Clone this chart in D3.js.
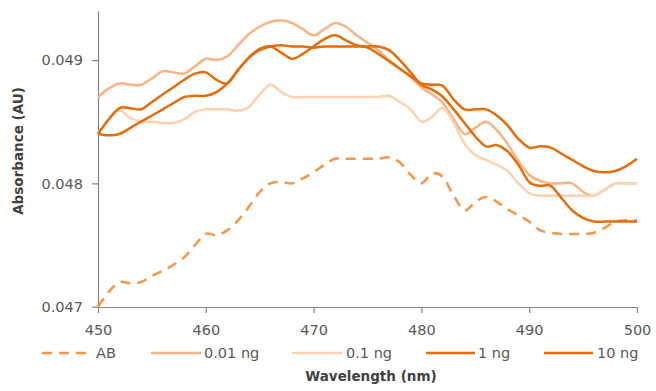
<!DOCTYPE html>
<html>
<head>
<meta charset="utf-8">
<script src="https://cdn.jsdelivr.net/npm/d3@7"></script>
<style>
  body { margin: 0; background: #fff; }
  svg { display: block; }
  .tick text { font-family: "DejaVu Sans", sans-serif; font-size: 14.5px; fill: #595959; }
  .axis path, .axis line { stroke: #868686; stroke-width: 1.2; }
</style>
</head>
<body>
<div id="chart"></div>
<script>
'use strict';

var width = 656;
var height = 391;

// wavelength (nm)
var wavelengths = [450, 451, 452, 453, 454, 455, 456, 457, 458, 459,
  460, 461, 462, 463, 464, 465, 466, 467, 468, 469,
  470, 471, 472, 473, 474, 475, 476, 477, 478, 479,
  480, 481, 482, 483, 484, 485, 486, 487, 488, 489,
  490, 491, 492, 493, 494, 495, 496, 497, 498, 499, 500];

var xTicks = [450, 460, 470, 480, 490, 500];
var yTicks = [0.047, 0.048, 0.049];

var ab = [0.04700, 0.04712, 0.04720, 0.04719, 0.04720, 0.04725, 0.04729, 0.04734, 0.04740, 0.04750,
  0.04759, 0.04758, 0.04762, 0.04770, 0.04781, 0.04793, 0.04800, 0.04801, 0.04800, 0.04804,
  0.04809, 0.04815, 0.04820, 0.04820, 0.04820, 0.04820, 0.04820, 0.04821, 0.04817, 0.04807,
  0.04800, 0.04808, 0.04805, 0.04790, 0.04778, 0.04785, 0.04789, 0.04785, 0.04779, 0.04774,
  0.04769, 0.04762, 0.04760, 0.04759, 0.04759, 0.04759, 0.04760, 0.04764, 0.04769, 0.04770, 0.04770];

var ng001 = [0.04870, 0.04877, 0.04881, 0.04880, 0.04880, 0.04885, 0.04891, 0.04890, 0.04889, 0.04895,
  0.04901, 0.04900, 0.04903, 0.04912, 0.04921, 0.04927, 0.04931, 0.04932, 0.04930, 0.04925,
  0.04920, 0.04925, 0.04930, 0.04927, 0.04920, 0.04914, 0.04908, 0.04900, 0.04893, 0.04886,
  0.04878, 0.04872, 0.04865, 0.04852, 0.04840, 0.04845, 0.04850, 0.04843, 0.04832, 0.04818,
  0.04807, 0.04802, 0.04800, 0.04800, 0.04800, 0.04793, 0.04790, 0.04795, 0.04800, 0.04800, 0.04800];

var ng01 = [0.04840, 0.04852, 0.04859, 0.04853, 0.04850, 0.04850, 0.04849, 0.04849, 0.04852, 0.04858,
  0.04860, 0.04860, 0.04860, 0.04859, 0.04862, 0.04872, 0.04880, 0.04874, 0.04870, 0.04870,
  0.04870, 0.04870, 0.04870, 0.04870, 0.04870, 0.04870, 0.04870, 0.04871, 0.04866, 0.04860,
  0.04850, 0.04854, 0.04861, 0.04849, 0.04832, 0.04823, 0.04819, 0.04815, 0.04810, 0.04800,
  0.04792, 0.04790, 0.04790, 0.04790, 0.04790, 0.04790, 0.04790, 0.04795, 0.04800, 0.04800, 0.04800];

var ng1 = [0.04840, 0.04852, 0.04861, 0.04861, 0.04860, 0.04866, 0.04872, 0.04878, 0.04884, 0.04889,
  0.04890, 0.04884, 0.04881, 0.04892, 0.04902, 0.04908, 0.04911, 0.04912, 0.04911, 0.04911,
  0.04910, 0.04911, 0.04911, 0.04911, 0.04911, 0.04911, 0.04911, 0.04908, 0.04900, 0.04890,
  0.04880, 0.04876, 0.04870, 0.04860, 0.04849, 0.04838, 0.04830, 0.04831, 0.04826, 0.04815,
  0.04801, 0.04798, 0.04798, 0.04788, 0.04778, 0.04772, 0.04769, 0.04769, 0.04769, 0.04769, 0.04769];

var ng10 = [0.04840, 0.04839, 0.04840, 0.04845, 0.04850, 0.04855, 0.04860, 0.04865, 0.04870, 0.04871,
  0.04871, 0.04874, 0.04881, 0.04892, 0.04902, 0.04909, 0.04911, 0.04906, 0.04901, 0.04905,
  0.04911, 0.04917, 0.04920, 0.04916, 0.04912, 0.04910, 0.04905, 0.04899, 0.04893, 0.04887,
  0.04881, 0.04880, 0.04879, 0.04868, 0.04860, 0.04860, 0.04860, 0.04855, 0.04847, 0.04836,
  0.04829, 0.04830, 0.04829, 0.04824, 0.04819, 0.04814, 0.04810, 0.04809, 0.04810, 0.04814, 0.04820];

var seriesNames = ['AB', '0.01 ng', '0.1 ng', '1 ng', '10 ng'];
var seriesValues = [ab, ng001, ng01, ng1, ng10];

var seriesStyle = [
  { color: '#F79646', dash: '10,7' },
  { color: '#F9B384', dash: null },
  { color: '#FCD2B0', dash: null },
  { color: '#E46C0A', dash: null },
  { color: '#E46C0A', dash: null }
];

// legend line start, line end, text start
var legendPos = [[42, 92, 96], [151, 201, 204], [292, 342, 346], [426, 475, 478], [544, 593, 597]];

var svg = d3.select('#chart').append('svg').attr('width', width).attr('height', height);

var x = d3.scaleLinear().domain([450, 500]).range([98, 637]);
var y = d3.scaleLinear().domain([0.047, 0.0494]).range([306.7, 10.7]);

// axes
svg.append('g').attr('class', 'axis').attr('transform', 'translate(98,0)')
  .call(d3.axisLeft(y).tickValues(yTicks).tickFormat(d3.format('.3f')).tickSize(6).tickSizeOuter(0).tickPadding(9));

svg.append('g').attr('class', 'axis').attr('transform', 'translate(0,307)')
  .call(d3.axisBottom(x).tickValues(xTicks).tickSize(6).tickSizeOuter(0).tickPadding(12));

// lines
var line = d3.line()
  .x(function (d, i) { return x(wavelengths[i]); })
  .y(function (d) { return y(d); })
  .curve(d3.curveCatmullRom.alpha(0));

seriesValues.forEach(function (vals, k) {
  svg.append('path')
    .attr('d', line(vals))
    .attr('fill', 'none')
    .attr('stroke', seriesStyle[k].color)
    .attr('stroke-width', 2.5)
    .attr('stroke-linejoin', 'round')
    .attr('stroke-dasharray', seriesStyle[k].dash);
});

// legend
var legend = svg.append('g').attr('transform', 'translate(0,353)');
seriesNames.forEach(function (name, k) {
  legend.append('line')
    .attr('x1', legendPos[k][0]).attr('x2', legendPos[k][1])
    .attr('y1', 0).attr('y2', 0)
    .attr('stroke', seriesStyle[k].color)
    .attr('stroke-width', 2.5)
    .attr('stroke-dasharray', seriesStyle[k].dash);
  legend.append('text')
    .attr('x', legendPos[k][2]).attr('y', 0).attr('dy', '0.36em')
    .style('font-family', '"DejaVu Sans", sans-serif').style('font-size', '14.5px')
    .attr('fill', '#595959')
    .text(name);
});

// axis titles
svg.append('text')
  .attr('transform', 'translate(18.5,151) rotate(-90)')
  .attr('text-anchor', 'middle').attr('dy', '0.36em')
  .style('font-family', '"DejaVu Sans", sans-serif').style('font-size', '13.5px').style('font-weight', 'bold')
  .attr('fill', '#404040')
  .text('Absorbance (AU)');

svg.append('text')
  .attr('x', 371).attr('y', 376)
  .attr('text-anchor', 'middle').attr('dy', '0.36em')
  .style('font-family', '"DejaVu Sans", sans-serif').style('font-size', '13.5px').style('font-weight', 'bold')
  .attr('fill', '#404040')
  .text('Wavelength (nm)');
</script>
</body>
</html>
